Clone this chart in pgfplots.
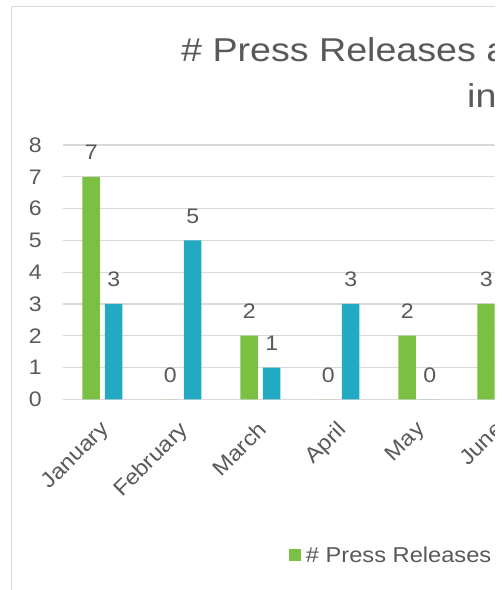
\documentclass[border=0pt]{standalone}
\usepackage{fontspec}
\setmainfont[FakeStretch=1.1]{Liberation Sans}
\newfontfamily\titlefont[FakeStretch=1.14]{Liberation Sans}
\usepackage{pgfplots}
\pgfplotsset{compat=1.18}
\definecolor{cgreen}{HTML}{7AC143}
\definecolor{cblue}{HTML}{21AAC1}
\definecolor{ctext}{HTML}{595959}
\definecolor{cgrid}{HTML}{D9D9D9}
\begin{document}
\begin{tikzpicture}
\path[use as bounding box] (0pt,0pt) rectangle (504pt,590pt);
\fill[white] (0pt,0pt) rectangle (504pt,590pt);
\begin{scope}
\clip (0pt,0pt) rectangle (494.5pt,590pt);
\draw[cgrid, line width=1.3pt] (11.7pt,-2pt) -- (11.7pt,583.3pt) -- (520pt,583.3pt);
\node[anchor=base west, inner sep=0pt, text=ctext, font=\titlefont\fontsize{33}{40}\selectfont] at (181pt,528.3pt) {\# Press Releases a};
\node[anchor=base west, inner sep=0pt, text=ctext, font=\titlefont\fontsize{33}{40}\selectfont] at (467pt,482.5pt) {in};
\begin{axis}[
  at={(63pt,190.7pt)}, anchor=south west,
  scale only axis, width=474pt, height=254.3pt,
  xmin=-0.5, xmax=5.5, ymin=0, ymax=8,
  ybar=5pt, bar width=17.5pt,
  axis line style={draw=none}, major tick length=0pt,
  ymajorgrids, grid style={cgrid, line width=1.3pt},
  ytick={0,1,2,3,4,5,6,7,8},
  xtick={0,1,2,3,4,5},
  xticklabels={January,February,March,April,May,June},
  /pgf/number format/assume math mode=true,
  tick label style={text=ctext, font=\fontsize{21}{25}\selectfont},
  yticklabel style={anchor=east, inner sep=0pt, xshift=-21pt},
  xticklabel style={inner sep=0pt, xshift=-3.5pt, yshift=-20.4pt, rotate=45, anchor=north east, font=\fontsize{21.5}{25}\selectfont},
  nodes near coords,
  nodes near coords style={text=ctext, font=\fontsize{21}{25}\selectfont, anchor=base, inner sep=0pt, yshift=17pt},
  legend style={at={(axis description cs:0.4774,-0.6142)}, anchor=west, draw=none, fill=none,
    inner sep=0pt, font=\fontsize{21.5}{26}\selectfont, text=ctext,
    nodes={inner sep=0pt}, /tikz/every odd column/.style={column sep=4.5pt}},
  legend cell align=left,
]
\addplot[fill=cgreen, draw=none,
  legend image code/.code={\fill[cgreen] (0pt,-6pt) rectangle (12pt,6pt);}]
  coordinates {(0,7) (1,0) (2,2) (3,0) (4,2) (5,3)};
\addlegendentry{\# Press Releases}
\addplot[fill=cblue, draw=none]
  coordinates {(0,3) (1,5) (2,1) (3,3) (4,0)};
\end{axis}
\end{scope}
\end{tikzpicture}
\end{document}
